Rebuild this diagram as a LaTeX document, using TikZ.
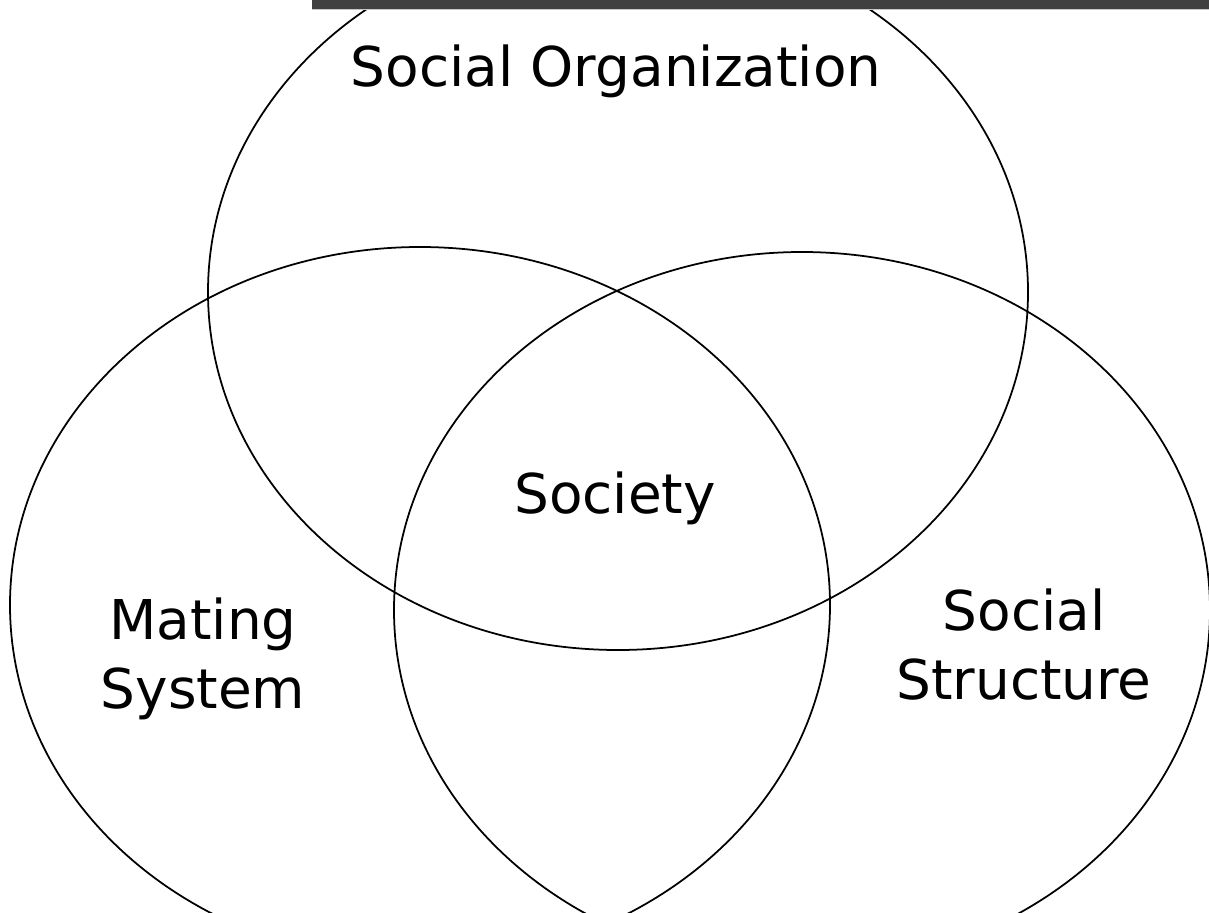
\documentclass[tikz,border=0pt]{standalone}
\usepackage{fontspec}
\setmainfont{DejaVu Sans}
\usepackage{tikz}
\usetikzlibrary{positioning, calc}
\definecolor{bargray}{rgb}{0.25, 0.25, 0.25}
\definecolor{barline}{rgb}{0.78, 0.78, 0.78}

\begin{document}
\begin{tikzpicture}[x=0.01cm, y=-0.01cm, ring/.style={draw=black, line width=0.5pt}, lbl/.style={font=\fontsize{15.6}{19.5}\selectfont, align=center, inner sep=0pt, anchor=base}]
		\pgfmathsetmacro{\ra}{410}
		\pgfmathsetmacro{\rb}{358}
		\useasboundingbox (0,0) rectangle (1209,912);
		\clip (0,0) rectangle (1209,912);
		\fill[white] (0,0) rectangle (1209,912);
		
		\draw[ring] (618,292) ellipse [x radius=\ra, y radius=\rb];
		\draw[ring] (420,605) ellipse [x radius=\ra, y radius=\rb];
		\draw[ring] (802,610) ellipse [x radius=\ra-2, y radius=\rb];
		
		\fill[bargray] (312,0) rectangle (1209,9);
		\draw[barline, line width=0.4pt] (312,9.7) -- (1209,9.7);
		
		\node[lbl] (org) at (616,87) {Social Organization};
		\node[lbl] (society) at (615,513) {Society};
		\node[lbl] (mating) at (203,708) {Mating\\System};
		\node[lbl] (structure) at (1024,699) {Social\\Structure};
		\end{tikzpicture}
\end{document}
